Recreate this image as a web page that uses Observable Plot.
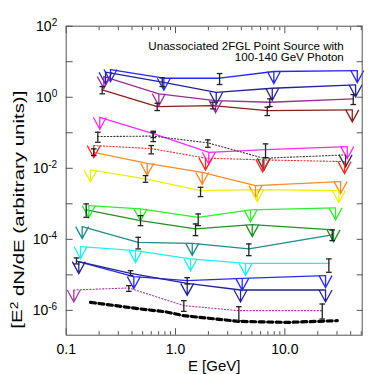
<!DOCTYPE html>
<html><head><meta charset="utf-8">
<script src="https://cdn.jsdelivr.net/npm/d3@7"></script>
<script src="https://cdn.jsdelivr.net/npm/@observablehq/plot@0.6"></script>
<style>html,body{margin:0;padding:0;background:#fff;}</style>
</head><body>
<div id="chart"></div>
<script>
// Each point: [E (GeV), E^2 dN/dE, errLow, errHigh]; no errors => upper limit
const blueTop   = [[0.254,6.03],[0.782,3.43],[2.53,3.43,2.28,4.65],[7.93,5.30],[45.98,5.65]];
const navyTop   = [[0.229,5.06],[0.756,2.65,2.00,3.52],[2.357,1.38],[7.67,1.79],[44.36,2.24]];
const purpleTop = [[0.221,3.83],[0.704,1.25],[2.323,0.807],[7.29,0.723,0.547,0.901],[42.25,0.901,0.623,1.19]];
const brownTop  = [[0.2135,1.62,1.25,2.00],[0.680,0.547,0.422,0.678],[2.194,0.584,0.471,0.723],[6.902,0.422,0.305,0.523],[41.37,0.442]];
const magenta   = [[0.203,0.2733],[0.6251,0.0950,0.0732,0.1102],[2.017,0.02823],[6.659,0.03363,0.02002,0.04868],[37.23,0.04087]];
const blackDot  = [[0.1946,0.0781,0.0540,0.1033],[0.6251,0.0807,0.0565,0.1013],[1.975,0.0519,0.0390,0.0631],[6.426,0.01913],[35.92,0.02384]];
const redDot    = [[0.1788,0.0436],[0.5993,0.0359,0.02544,0.0436],[1.881,0.01938],[6.252,0.01724],[35.17,0.01544]];
const orange    = [[0.1788,0.02823,0.02279,0.0352],[0.5508,0.01383],[1.755,0.00772],[5.39,0.003256],[32.33,0.00422]];
const yellow    = [[0.1668,0.00901],[0.5315,0.005028,0.004033,0.006229],[1.693,0.002353,0.001595,0.002915],[5.592,0.002512],[31.19,0.002353]];
const green     = [[0.161,0.000889],[0.4784,0.000718],[1.613,0.000417,0.000243,0.000519],[4.856,0.000673],[29.10,0.000766]];
const darkGreen = [[0.1524,0.000673,0.000417,0.000994],[0.4784,0.000336,0.000243,0.000465],[1.524,0.000196,0.000127,0.000271],[5.033,0.000259],[27.90,0.000184]];
const teal      = [[0.140,0.000228],[0.4557,0.0000823,0.0000537,0.0001138],[1.422,0.0000772],[4.684,0.0000537,0.0000347,0.0000742],[27.14,0.000133,0.0000919,0.000184]];
const cyan      = [[0.1352,0.0000623],[0.4305,0.000048],[1.372,0.0000281],[4.370,0.0000211],[25.27,0.0000211,0.0000118,0.0000281]];
const blueLow   = [[0.1242,0.0000243,0.0000203,0.0000299],[0.4155,0.00000889],[1.279,0.00000686,0.00000554,0.00000834],[4.076,0.00000797],[23.57,0.0000095]];
const navyLow   = [[0.1304,0.0000235],[0.3876,0.000011,0.0000095,0.0000131],[1.279,0.00000576],[3.933,0.00000375],[23.57,0.00000375]];
const purpleDot = [[0.1174,0.00000375],[0.374,0.00000428,0.00000343,0.00000496],[1.191,0.00000136,0.000000937,0.00000188],[3.795,0.000000981,0.000000513,0.00000127],[21.99,0.000000981,0.000000572,0.00000151]];
// sensitivity curve
const sensE = [0.1668,0.4784,0.81,1.191,3.795,10.51,30.2];
const sensF = [1.68e-6,1.095e-6,9.13e-7,7.09e-7,4.90e-7,4.59e-7,5.13e-7];

const xMajor = [0.1, 1, 10];
const xMinor = [0.2,0.3,0.4,0.5,0.6,0.7,0.8,0.9,2,3,4,5,6,7,8,9,20,30,40,50];
const yMajor = [1e-6,1e-5,1e-4,1e-3,1e-2,1e-1,1,10,100];
const yLabeled = [1e-6,1e-4,1e-2,1,100];
const titleText = "Unassociated 2FGL Point Source with\n100-140 GeV Photon";

// styles
const seriesStyle = [
  ["blueTop", blueTop, "#2626ff", null],
  ["navyTop", navyTop, "#22229c", null],
  ["purpleTop", purpleTop, "#9c2a9c", null],
  ["brownTop", brownTop, "#8e1c1c", null],
  ["magenta", magenta, "#ff28ff", null],
  ["blackDot", blackDot, "#333333", "1.2,2"],
  ["redDot", redDot, "#ff2a2a", "1.2,2"],
  ["orange", orange, "#ff8a26", null],
  ["yellow", yellow, "#eeee10", null],
  ["green", green, "#30ee30", null],
  ["darkGreen", darkGreen, "#22902a", null],
  ["teal", teal, "#208a8a", null],
  ["cyan", cyan, "#20f0f0", null],
  ["blueLow", blueLow, "#2a2aff", null],
  ["navyLow", navyLow, "#22229a", null],
  ["purpleDot", purpleDot, "#a03aa0", "1.2,2"]
];

const rows = [];
for (const [name, pts, color, dash] of seriesStyle) {
  for (const p of pts) rows.push({series: name, color, dash, E: p[0], F: p[1], lo: p[2] ?? null, hi: p[3] ?? null});
}
const upper = rows.filter(d => d.lo == null);
const errs = rows.filter(d => d.lo != null);
const sens = sensE.map((e, i) => ({E: e, F: sensF[i]}));

const ulSymbol = {draw(ctx) { ctx.moveTo(-6.5, 0); ctx.lineTo(0, 12); ctx.lineTo(6.5, 0); ctx.moveTo(0, 0); ctx.lineTo(0, 12); }};
const capSymbol = {draw(ctx) { ctx.moveTo(-2.8, 0); ctx.lineTo(2.8, 0); }};

const lineMarks = seriesStyle.map(([name, pts, color, dash]) =>
  Plot.line(rows.filter(d => d.series === name), {x: "E", y: "F", stroke: color, strokeWidth: dash ? 1.1 : 1.3, strokeDasharray: dash ?? undefined})
);

const chart = Plot.plot({
  width: 374, height: 374,
  marginLeft: 65.7, marginRight: 12.3, marginTop: 25.7, marginBottom: 39.3,
  style: {fontFamily: "'Liberation Sans', Arial, Helvetica, sans-serif", fontSize: "14px", background: "white", color: "black"},
  x: {type: "log", domain: [0.1, 51]},
  y: {type: "log", domain: [2e-7, 100]},
  color: {type: "identity"},
  marks: [
    ...lineMarks,
    Plot.line(sens, {x: "E", y: "F", stroke: "black", strokeWidth: 3.2, strokeDasharray: "5,3.5"}),
    Plot.dot(upper, {x: "E", y: "F", stroke: "color", fill: "none", symbol: ulSymbol, strokeWidth: 1.3}),
    Plot.ruleX(errs, {x: "E", y1: "lo", y2: "hi", stroke: "#222", strokeWidth: 1.3}),
    Plot.dot(errs, {x: "E", y: "lo", stroke: "#222", fill: "none", symbol: capSymbol, strokeWidth: 1.3}),
    Plot.dot(errs, {x: "E", y: "hi", stroke: "#222", fill: "none", symbol: capSymbol, strokeWidth: 1.3}),
    Plot.frame({stroke: "#555"}),
    Plot.axisX(xMajor, {anchor: "bottom", tickSize: -6.5, tickFormat: () => "", label: null, stroke: "#555"}),
    Plot.axisX(xMinor, {anchor: "bottom", tickSize: -3.5, tickFormat: () => "", label: null, stroke: "#555"}),
    Plot.axisX(xMajor, {anchor: "top", tickSize: -6.5, tickFormat: () => "", label: null, stroke: "#555"}),
    Plot.axisX(xMinor, {anchor: "top", tickSize: -3.5, tickFormat: () => "", label: null, stroke: "#555"}),
    Plot.axisX(xMajor, {anchor: "bottom", tickSize: 0, tickPadding: 9, tickFormat: d3.format(".1f"), label: null, fontSize: 14}),
    Plot.axisY(yMajor, {anchor: "left", tickSize: -7, tickFormat: () => "", label: null, stroke: "#555"}),
    Plot.axisY(yMajor, {anchor: "right", tickSize: -6, tickFormat: () => "", label: null, stroke: "#555"}),
    Plot.axisY(yLabeled, {anchor: "left", tickSize: 0, tickPadding: 9, tickFormat: d => "10^" + Math.round(Math.log10(d)), label: null, fontSize: 14}),
    Plot.text([titleText], {frameAnchor: "top-right", textAnchor: "end", lineAnchor: "top", dx: -18.4, dy: 15.3, fontSize: 11.6, lineHeight: 1.0}),
    Plot.text(["E [GeV]"], {frameAnchor: "bottom", textAnchor: "middle", lineAnchor: "middle", dy: 30.5, fontSize: 15}),
    Plot.text(["[E^2 dN/dE (arbitrary units)]"], {frameAnchor: "left", textAnchor: "middle", rotate: -90, lineAnchor: "middle", dx: -49, dy: 29, fontSize: 15})
  ]
});

// superscripts
d3.select(chart).selectAll("text").each(function() {
  const t = this.textContent;
  const m = /^10\^(-?\d+)$/.exec(t);
  const sel = d3.select(this);
  if (m) {
    sel.text("10");
    sel.append("tspan").attr("dy", "-0.45em").attr("font-size", "10px").text(m[1]);
  } else if (t === "[E^2 dN/dE (arbitrary units)]") {
    sel.text("[E");
    sel.append("tspan").attr("dy", "-0.45em").attr("font-size", "10px").text("2");
    sel.append("tspan").attr("dy", "0.45em").text(" dN/dE (arbitrary units)]");
    sel.attr("textLength", 238).attr("lengthAdjust", "spacingAndGlyphs");
  }
});

document.getElementById("chart").appendChild(chart);
</script>
</body></html>
